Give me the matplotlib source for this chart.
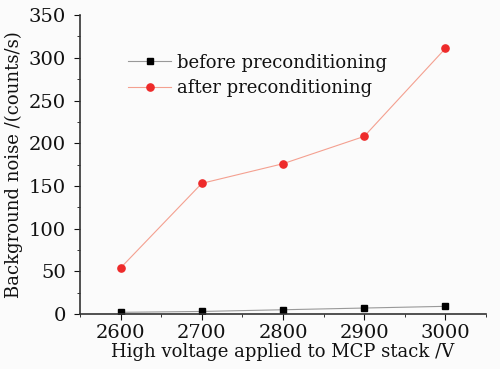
import matplotlib
matplotlib.use("Agg")
from matplotlib import pyplot as plt
from matplotlib.ticker import MultipleLocator

# data
voltage = [2600, 2700, 2800, 2900, 3000]
before = [2, 3, 5, 7, 9]
after = [54, 153, 176, 208, 311]


def main():
    plt.rcParams['font.family'] = ['DejaVu Serif']
    fig = plt.figure(figsize=(5.0, 3.69), dpi=100, facecolor='#fbfbfb')
    ax = fig.add_axes([0.16, 0.149, 0.812, 0.81])
    ax.set_facecolor('#fbfbfb')

    ax.plot(voltage, before, color='#999999', lw=0.8, marker='s', ms=4,
            mfc='black', mec='black', label='before preconditioning')
    ax.plot(voltage, after, color='#f4a090', lw=0.8, marker='o', ms=5.2,
            mfc='#ee2a2a', mec='#ee2a2a', label='after preconditioning')

    ax.set_xlim(2550, 3050)
    ax.set_ylim(0, 350)
    ax.xaxis.set_major_locator(MultipleLocator(100))
    ax.xaxis.set_minor_locator(MultipleLocator(50))
    ax.yaxis.set_major_locator(MultipleLocator(50))
    ax.yaxis.set_minor_locator(MultipleLocator(25))
    ax.spines['top'].set_visible(False)
    ax.spines['right'].set_visible(False)
    for s in ('left', 'bottom'):
        ax.spines[s].set_color('#333333')
        ax.spines[s].set_linewidth(1.2)
    ax.tick_params(which='both', direction='out', labelsize=14, colors='#111111')
    ax.tick_params(which='major', length=4, pad=3)
    ax.tick_params(axis='y', which='major', pad=6)
    ax.tick_params(which='minor', length=2.5)

    ax.set_xlabel('High voltage applied to MCP stack /V', fontsize=13,
                  labelpad=1, color='#111111')
    ax.set_ylabel('Background noise /(counts/s)', fontsize=13,
                  labelpad=4, color='#111111')

    leg = ax.legend(loc='upper left', bbox_to_anchor=(0.078, 0.925), frameon=False,
                    fontsize=13, handlelength=2.4, handletextpad=0.3,
                    labelspacing=0.4)
    for t in leg.get_texts():
        t.set_color('#111111')

    fig.savefig('out.png', dpi=100, facecolor=fig.get_facecolor())


if __name__ == '__main__':
    main()
